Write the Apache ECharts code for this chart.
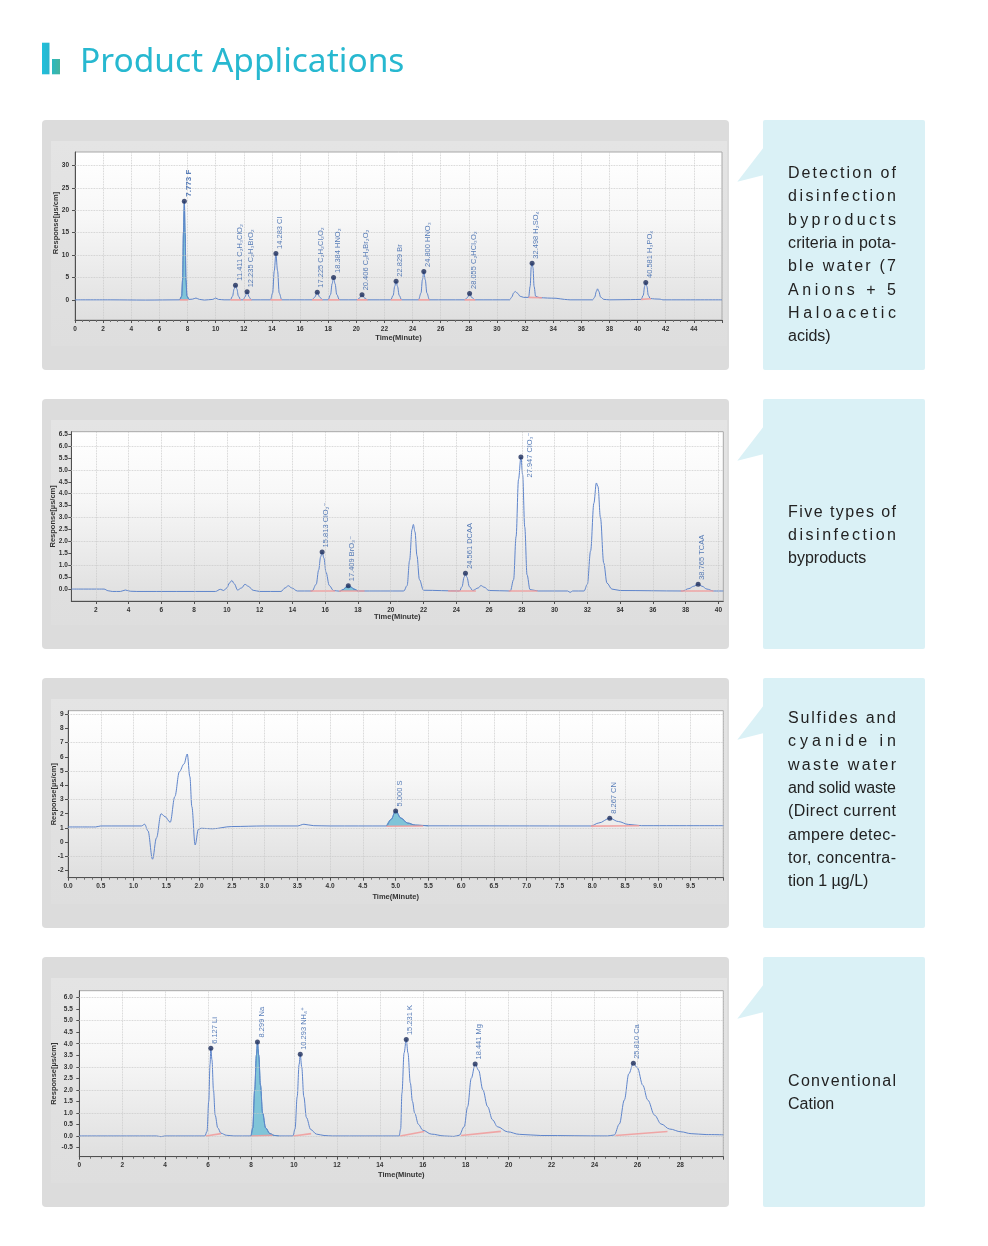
<!DOCTYPE html>
<html>
<head>
<meta charset="utf-8">
<script src="https://cdn.jsdelivr.net/npm/echarts@6/dist/echarts.min.js"></script>
<style>
html,body{margin:0;padding:0;background:#ffffff;overflow:hidden;}
#wrap{position:relative;width:988px;height:1246px;}
#chart{position:absolute;left:0;top:0;width:988px;height:1246px;}
.side{position:absolute;left:788px;font-family:"Liberation Sans",Arial,sans-serif;font-size:16px;color:#222;white-space:nowrap;line-height:20px;height:20px;z-index:2;}
</style>
</head>
<body>
<div id="wrap"><div id="chart"></div></div>
<script>
// ---------------- DATA ----------------
// Chart 1: disinfection byproducts (7 anions + 5 haloacetic acids)
const c1Trace = [[0,0],[2.5,0],[5,-0.05],[7.45,0],[7.58,0.8],[7.65,4.5],[7.71,15],[7.773,22],[7.83,15],[7.89,4.5],[7.96,0.8],[8.1,0.1],[8.35,0.15],[8.6,0.4],[8.85,0.1],[9.2,-0.05],[9.8,0.1],[10.0,0.4],[10.2,0.1],[10.6,0],[11.05,0],[11.2,0.8],[11.31,2.4],[11.411,3.27],[11.51,2.4],[11.62,0.8],[11.78,0],[11.95,0],[12.08,0.6],[12.235,1.79],[12.39,0.6],[12.52,0],[13.9,0],[14.05,1.5],[14.17,6.5],[14.283,10.35],[14.4,6.5],[14.52,1.5],[14.7,0],[16.85,0],[17.05,0.6],[17.225,1.71],[17.4,0.6],[17.6,0],[18.0,0],[18.17,1.2],[18.28,3.6],[18.384,4.99],[18.49,3.6],[18.61,1.2],[18.8,0],[20.05,0],[20.22,0.4],[20.406,1.12],[20.59,0.4],[20.8,0],[22.45,0],[22.62,1.0],[22.73,3.0],[22.829,4.17],[22.93,3.0],[23.05,1.0],[23.22,0],[24.42,0],[24.6,1.5],[24.7,4.5],[24.8,6.33],[24.9,4.5],[25.02,1.5],[25.2,0],[27.7,0],[27.9,0.5],[28.055,1.42],[28.21,0.5],[28.45,0],[30.9,0],[31.05,0.6],[31.2,1.6],[31.3,1.86],[31.45,1.5],[31.65,0.8],[31.9,0.55],[32.25,0.55],[32.36,3.0],[32.44,7.4],[32.498,8.19],[32.56,7.2],[32.64,3.0],[32.75,0.8],[33.0,0.5],[33.6,0.4],[34.2,0.35],[34.8,0.1],[35.2,0],[36.8,0],[36.95,0.6],[37.07,1.9],[37.15,2.46],[37.24,1.9],[37.37,0.6],[37.6,0.1],[38,0],[39.5,0.05],[40.25,0.1],[40.4,1.0],[40.5,3.0],[40.581,3.87],[40.66,3.0],[40.76,1.0],[40.9,0.3],[41.2,0.2],[41.6,0.15],[41.8,0],[46,0]];
const c1Peaks = [[7.773,22,'7.773 F'],[11.411,3.27,'11.411 C₂H₃ClO₂'],[12.235,1.79,'12.235 C₂H₃BrO₂'],[14.283,10.35,'14.283 Cl'],[17.225,1.71,'17.225 C₂H₂Cl₂O₂'],[18.384,4.99,'18.384 HNO₂'],[20.406,1.12,'20.406 C₂H₂Br₂O₂'],[22.829,4.17,'22.829 Br'],[24.8,6.33,'24.800 HNO₃'],[28.055,1.42,'28.055 C₂HCl₃O₂'],[32.498,8.19,'32.498 H₂SO₄'],[40.581,3.87,'40.581 H₃PO₄']];
const c1Base = [[7.45,0,8.05,0],[11.05,0,11.8,0],[11.95,0,12.55,0],[13.9,0,14.7,0],[16.85,0,17.6,0],[18.0,0,18.8,0],[20.05,0,20.8,0],[22.45,0,23.22,0],[24.42,0,25.2,0],[27.7,0,28.45,0],[32.25,0.55,33.2,0.45],[40.25,0.1,40.95,0.25]];
const c1Fill = [7.45, 8.1, 0];
const c1YTicks = [0,5,10,15,20,25,30];
const c1HLines = [5,10,15,20,25,30];

// Chart 2: five disinfection byproducts
const c2Trace = [[0.5,0],[2.5,0],[2.75,-0.07],[3.0,-0.1],[3.5,-0.1],[3.8,-0.04],[4.1,-0.09],[4.5,-0.1],[9.3,-0.1],[9.6,-0.01],[9.8,-0.06],[10.0,0.05],[10.15,0.25],[10.3,0.36],[10.45,0.22],[10.65,-0.04],[10.9,0.05],[11.1,0.2],[11.3,0.12],[11.6,-0.05],[12.0,-0.1],[13.3,-0.1],[13.55,0.05],[13.75,0.14],[13.95,0.05],[14.3,-0.08],[15.2,-0.08],[15.45,0.2],[15.6,0.8],[15.72,1.35],[15.813,1.56],[15.92,1.3],[16.05,0.7],[16.25,0.15],[16.5,-0.06],[16.9,-0.09],[17.1,-0.02],[17.3,0.1],[17.409,0.14],[17.55,0.1],[17.75,0.0],[18.0,-0.08],[20.8,-0.08],[21.0,0.15],[21.15,1.2],[21.3,2.5],[21.38,2.71],[21.48,2.4],[21.6,1.4],[21.75,0.4],[22.0,-0.05],[24.2,-0.08],[24.35,0.1],[24.48,0.5],[24.561,0.66],[24.65,0.5],[24.8,0.1],[25.0,-0.06],[25.35,0.05],[25.5,0.15],[25.7,0.08],[26.0,-0.06],[27.3,-0.08],[27.5,0.4],[27.65,2.2],[27.8,4.6],[27.947,5.54],[28.05,4.8],[28.18,2.6],[28.32,0.6],[28.5,-0.02],[29,-0.08],[30.8,-0.08],[30.95,-0.14],[31.1,-0.08],[31.8,-0.08],[32.0,0.2],[32.2,1.6],[32.4,3.6],[32.55,4.45],[32.65,4.3],[32.8,3.0],[33.0,1.1],[33.2,0.25],[33.5,0.0],[34.0,-0.06],[37.8,-0.08],[38.2,0.02],[38.5,0.12],[38.765,0.2],[39.0,0.12],[39.3,0.0],[39.7,-0.08],[40.3,-0.08]];
const c2Peaks = [[15.813,1.56,'15.813 ClO₂⁻'],[17.409,0.14,'17.409 BrO₃⁻'],[24.561,0.66,'24.561 DCAA'],[27.947,5.54,'27.947 ClO₃⁻'],[38.765,0.2,'38.765 TCAA']];
const c2Base = [[15.1,-0.08,16.6,-0.08],[16.85,-0.08,18.4,-0.08],[23.5,-0.08,25.2,-0.08],[27.2,-0.08,28.95,-0.08],[37.7,-0.08,39.7,-0.08]];
const c2Fill = [16.9, 18.0, -0.08];
const c2XTicks = [2,4,6,8,10,12,14,16,18,20,22,24,26,28,30,32,34,36,38,40];
const c2YTicks = [0,0.5,1,1.5,2,2.5,3,3.5,4,4.5,5,5.5,6,6.5];
const c2HLines = [1,2,3,4,5,6];

// Chart 3: sulfides and cyanide
const c3Trace = [[0,1.07],[0.42,1.07],[0.5,1.14],[1.12,1.14],[1.17,1.26],[1.22,0.8],[1.29,-1.2],[1.35,0.3],[1.42,2.0],[1.48,1.8],[1.56,1.4],[1.63,3.2],[1.7,4.96],[1.77,5.5],[1.82,6.2],[1.86,4.6],[1.89,2.5],[1.94,-0.2],[1.99,0.9],[2.03,0.98],[2.2,0.94],[2.5,1.1],[3.0,1.14],[3.5,1.14],[3.6,1.26],[3.75,1.16],[4.0,1.14],[4.86,1.14],[4.93,1.6],[5.0,2.2],[5.08,1.7],[5.18,1.35],[5.3,1.2],[5.5,1.15],[7.98,1.14],[8.1,1.35],[8.267,1.68],[8.4,1.45],[8.55,1.25],[8.75,1.16],[10,1.16]];
const c3Peaks = [[5.0,2.2,'5.000 S'],[8.267,1.68,'8.267 CN']];
const c3Base = [[4.86,1.12,5.42,1.14],[7.98,1.13,8.72,1.15]];
const c3Fill = [4.86, 5.5, 1.13];
const c3YTicks = [-2,-1,0,1,2,3,4,5,6,7,8,9];
const c3HLines = [-1,1,3,5,7,9];

// Chart 4: conventional cations
const c4Trace = [[0,0],[3.6,0],[3.8,-0.03],[4.0,0],[5.85,0],[5.95,0.2],[6.03,1.5],[6.09,3.1],[6.127,3.8],[6.18,3.3],[6.25,2.0],[6.33,0.9],[6.45,0.35],[6.6,0.12],[6.85,0.03],[7.2,0],[8.0,0],[8.08,0.35],[8.17,2.0],[8.25,3.5],[8.299,4.08],[8.36,3.5],[8.44,2.2],[8.54,1.0],[8.68,0.35],[8.88,0.1],[9.1,0.02],[9.3,0],[9.95,0],[10.05,0.3],[10.15,1.7],[10.24,3.1],[10.293,3.54],[10.36,3.0],[10.46,1.7],[10.58,0.8],[10.78,0.28],[11.05,0.08],[11.4,0.02],[11.8,0],[14.9,0],[14.97,0.3],[15.03,1.86],[15.13,3.6],[15.231,4.18],[15.31,3.6],[15.42,2.3],[15.52,1.5],[15.62,1.0],[15.8,0.5],[16.0,0.25],[16.4,0.08],[17.0,0.0],[17.45,-0.02],[17.7,0.03],[17.93,0.4],[18.09,1.27],[18.26,2.5],[18.441,3.12],[18.6,2.85],[18.8,2.0],[19.02,1.27],[19.25,0.7],[19.48,0.4],[19.95,0.18],[20.5,0.07],[21.5,0.02],[24.6,0.0],[24.92,0.04],[25.16,0.52],[25.39,1.56],[25.6,2.7],[25.81,3.15],[26.0,2.95],[26.25,2.2],[26.48,1.56],[26.8,0.9],[27.1,0.52],[27.5,0.3],[28.03,0.18],[28.5,0.1],[29.2,0.06],[30,0.05]];
const c4Peaks = [[6.127,3.8,'6.127 Li'],[8.299,4.08,'8.299 Na'],[10.293,3.54,'10.293 NH₄⁺'],[15.231,4.18,'15.231 K'],[18.441,3.12,'18.441 Mg'],[25.81,3.15,'25.810 Ca']];
const c4Base = [[5.9,0,6.6,0.1],[8.02,0,9.0,0.03],[9.98,0,10.8,0.1],[14.95,0,16.07,0.19],[17.78,0.02,19.64,0.2],[24.98,0.02,27.4,0.19]];
const c4Fill = [8.0, 9.3, 0];
const c4YTicks = [-0.5,0,0.5,1,1.5,2,2.5,3,3.5,4,4.5,5,5.5,6];
const c4HLines = [0,1,2,3,4,5,6];

// Side texts
const side1 = ['Detection of','disinfection','byproducts','criteria in pota-','ble water (7','Anions + 5','Haloacetic','acids)'];
const side2 = ['Five types of','disinfection','byproducts'];
const side3 = ['Sulfides and','cyanide in','waste water','and solid waste','(Direct current','ampere detec-','tor, concentra-','tion 1 µg/L)'];
const side4 = ['Conventional','Cation'];

// ---------------- LAYOUT / STYLE ----------------
const panelTops = [120, 399, 678, 957];
const grids = [
  {left:75, top:152, width:647, height:168},
  {left:71.3, top:431.7, width:652, height:169.3},
  {left:68, top:710.7, width:655.3, height:167},
  {left:79.3, top:990.7, width:644, height:166}
];
const FONT = '"Liberation Sans", "DejaVu Sans", Arial, sans-serif';
const lineColor = '#5f85cb';
const labelShift = {'27.947 ClO₃⁻':[-24, 9]};
const boldLabels = {'7.773 F': true};

function segs(list){
  const out = [];
  list.forEach(s => { out.push([s[0], s[1]], [s[2], s[3]], [s[2], '-']); });
  return out;
}
function sub(trace, r){ return trace.filter(p => p[0] >= r[0] && p[0] <= r[1]); }

const plotBg = new echarts.graphic.LinearGradient(0,0,0,1,[
  {offset:0, color:'#ffffff'},{offset:0.4, color:'#f7f7f7'},{offset:1, color:'#dfdfdf'}]);

const gridOpts = grids.map(g => Object.assign({show:true, backgroundColor:plotBg, borderColor:'#a8a8a8', borderWidth:1}, g));

const tickLbl = {fontSize:6.5, fontWeight:'bold', color:'#333', fontFamily:FONT};
const split = {show:true, lineStyle:{color:'#c6c6c6', type:'dotted', width:0.8}};
const axLine = {show:true, onZero:false, lineStyle:{color:'#505050', width:1}};
const nameStyle = {fontSize:7.5, fontWeight:'bold', color:'#333', fontFamily:FONT};

function xAxisOpt(i, cfg){
  const o = {
    type:'value', gridIndex:i, min:cfg.min, max:cfg.max,
    axisLine:axLine,
    axisTick:{show:true, length:3, lineStyle:{color:'#505050'}},
    minorTick:{show:cfg.minor !== false, splitNumber:4, length:2, lineStyle:{color:'#707070'}},
    axisLabel:Object.assign({margin:cfg.margin, showMaxLabel:cfg.showMax || false, formatter:cfg.fmt}, tickLbl),
    splitLine:cfg.ticks ? {show:false} : split,
    name:'Time(Minute)', nameLocation:'middle', nameGap:cfg.nameGap, nameMoveOverlap:false,
    nameTextStyle:nameStyle
  };
  if (cfg.interval) o.interval = cfg.interval;
  if (cfg.ticks) { o.axisTick.customValues = cfg.ticks; o.axisLabel.customValues = cfg.ticks; }
  return o;
}
function yAxisOpt(i, cfg){
  return {
    type:'value', gridIndex:i, min:cfg.min, max:cfg.max,
    axisLine:axLine,
    axisTick:{show:true, length:3, lineStyle:{color:'#505050'}, customValues:cfg.ticks},
    axisLabel:Object.assign({margin:cfg.margin, customValues:cfg.ticks, formatter:cfg.fmt}, tickLbl),
    splitLine:{show:false},
    name:'Response[µs/cm]', nameLocation:'middle', nameGap:cfg.nameGap, nameMoveOverlap:false,
    nameTextStyle:Object.assign({padding:cfg.namePad || 0}, nameStyle)
  };
}

const f1 = v => String(v);
const f2 = v => Number(v).toFixed(1);

const xAxes = [
  xAxisOpt(0, {min:0, max:46, interval:2, margin:6, nameGap:14, fmt:f1}),
  xAxisOpt(1, {min:0.5, max:40.3, ticks:c2XTicks, margin:6, nameGap:12, fmt:f1, minor:false, showMax:true}),
  xAxisOpt(2, {min:0, max:10, interval:0.5, margin:5, nameGap:15.5, fmt:f2}),
  xAxisOpt(3, {min:0, max:30, interval:2, margin:5, nameGap:14.5, fmt:f1})
];
const yAxes = [
  yAxisOpt(0, {min:-4.5, max:33, ticks:c1YTicks, margin:6, nameGap:15.5, fmt:f1, namePad:[0,0,0,26]}),
  yAxisOpt(1, {min:-0.5, max:6.6, ticks:c2YTicks, margin:3.5, nameGap:14, fmt:f2}),
  yAxisOpt(2, {min:-2.5, max:9.25, ticks:c3YTicks, margin:4.5, nameGap:10.5, fmt:f1}),
  yAxisOpt(3, {min:-0.9, max:6.3, ticks:c4YTicks, margin:6.5, nameGap:21, fmt:f2})
];

const charts = [
  {trace:c1Trace, peaks:c1Peaks, base:c1Base, fill:c1Fill, h:c1HLines, v:[]},
  {trace:c2Trace, peaks:c2Peaks, base:c2Base, fill:c2Fill, h:c2HLines, v:c2XTicks},
  {trace:c3Trace, peaks:c3Peaks, base:c3Base, fill:c3Fill, h:c3HLines, v:[]},
  {trace:c4Trace, peaks:c4Peaks, base:c4Base, fill:c4Fill, h:c4HLines, v:[]}
];

const series = [];
charts.forEach((c, i) => {
  const common = {xAxisIndex:i, yAxisIndex:i, animation:false, silent:true};
  // dotted grid lines through the axis scales
  series.push(Object.assign({
    type:'line', data:[], symbol:'none', z:1,
    markLine:{silent:true, symbol:['none','none'], label:{show:false}, animation:false,
      lineStyle:{color:'#c6c6c6', type:'dotted', width:0.8},
      data:c.h.map(v => ({yAxis:v})).concat(c.v.map(v => ({xAxis:v})))}
  }, common));
  series.push(Object.assign({
    type:'line', data:sub(c.trace, c.fill), smooth:0.35, smoothMonotone:'x', symbol:'none',
    lineStyle:{color:'#3c88bb', width:0.8},
    areaStyle:{color:'#7ac2d7', opacity:0.95, origin:c.fill[2]}, z:2
  }, common));
  series.push(Object.assign({
    type:'line', data:c.trace, smooth:0.35, smoothMonotone:'x', symbol:'none',
    lineStyle:{color:lineColor, width:1}, z:3
  }, common));
  series.push(Object.assign({
    type:'line', data:segs(c.base), symbol:'none', connectNulls:false,
    lineStyle:{color:'#f19a9a', width:1.6, opacity:0.85}, z:4
  }, common));
  series.push(Object.assign({
    type:'scatter', symbolSize:5, itemStyle:{color:'#1c2c5a'}, z:5,
    data:c.peaks.map(p => {
      const item = {value:[p[0], p[1]], name:p[2]};
      const lab = {};
      if (labelShift[p[2]]) lab.offset = labelShift[p[2]];
      if (boldLabels[p[2]]) { lab.fontWeight = 'bold'; lab.fontSize = 8; }
      item.label = lab;
      return item;
    }),
    label:{show:true, formatter:'{b}', position:'top', distance:1, rotate:90, align:'left', verticalAlign:'middle',
      offset:[1, 4], fontSize:7.5, color:'#2f5ea8', fontFamily:FONT}
  }, common));
});

// ---------------- DECORATION ----------------
const graphics = [];
graphics.push({type:'rect', z:-10, shape:{x:42, y:42.7, width:7.5, height:31.6},
  style:{fill:new echarts.graphic.LinearGradient(0,0,1,0,[{offset:0,color:'#1fc0dc'},{offset:1,color:'#2bb5cc'}])}});
graphics.push({type:'rect', z:-10, shape:{x:52, y:59, width:8, height:15.3},
  style:{fill:new echarts.graphic.LinearGradient(0,0,1,0,[{offset:0,color:'#2ab9c0'},{offset:1,color:'#47b39e'}])}});
graphics.push({type:'text', z:-10, style:{text:'Product Applications', x:80, y:62.5, fill:'#27b8d0',
  font:'33.5px "Noto Sans", "Open Sans", sans-serif', textVerticalAlign:'middle'}});
panelTops.forEach(t => {
  graphics.push({type:'rect', z:-10, shape:{x:42, y:t, width:687, height:250, r:4}, style:{fill:'#dcdcdc'}});
  graphics.push({type:'rect', z:-9, shape:{x:51, y:t+21, width:676, height:205},
    style:{fill:new echarts.graphic.LinearGradient(0,0,0,1,[{offset:0,color:'#e4e4e4'},{offset:1,color:'#dedede'}])}});
  graphics.push({type:'rect', z:-10, shape:{x:763, y:t, width:162, height:250, r:2}, style:{fill:'#daf1f6'}});
  graphics.push({type:'polygon', z:-10, shape:{points:[[737.3,t+61.7],[764,t+27],[764,t+55]]}, style:{fill:'#daf1f6'}});
});

const chart = echarts.init(document.getElementById('chart'), null, {renderer:'canvas'});
chart.setOption({
  animation:false,
  backgroundColor:'#ffffff',
  grid:gridOpts,
  xAxis:xAxes,
  yAxis:yAxes,
  series:series,
  graphic:{elements:graphics}
});

// ---------------- SIDE TEXT (justified lines) ----------------
const measure = document.createElement('canvas').getContext('2d');
measure.font = '16px "Liberation Sans"';
function addSide(lines, firstCenter, step){
  const W = 108;
  lines.forEach((ln, k) => {
    const d = document.createElement('div');
    d.className = 'side';
    d.textContent = ln;
    d.style.top = (firstCenter + k*step - 10) + 'px';
    if (k < lines.length - 1 && ln.length > 1) {
      const w = measure.measureText(ln).width;
      d.style.letterSpacing = ((W - w) / (ln.length - 1)).toFixed(3) + 'px';
    }
    document.getElementById('wrap').appendChild(d);
  });
}
addSide(side1, 173, 23.3);
addSide(side2, 511.5, 23.3);
addSide(side3, 718, 23.3);
addSide(side4, 1080.5, 23.3);
</script>
</body>
</html>
